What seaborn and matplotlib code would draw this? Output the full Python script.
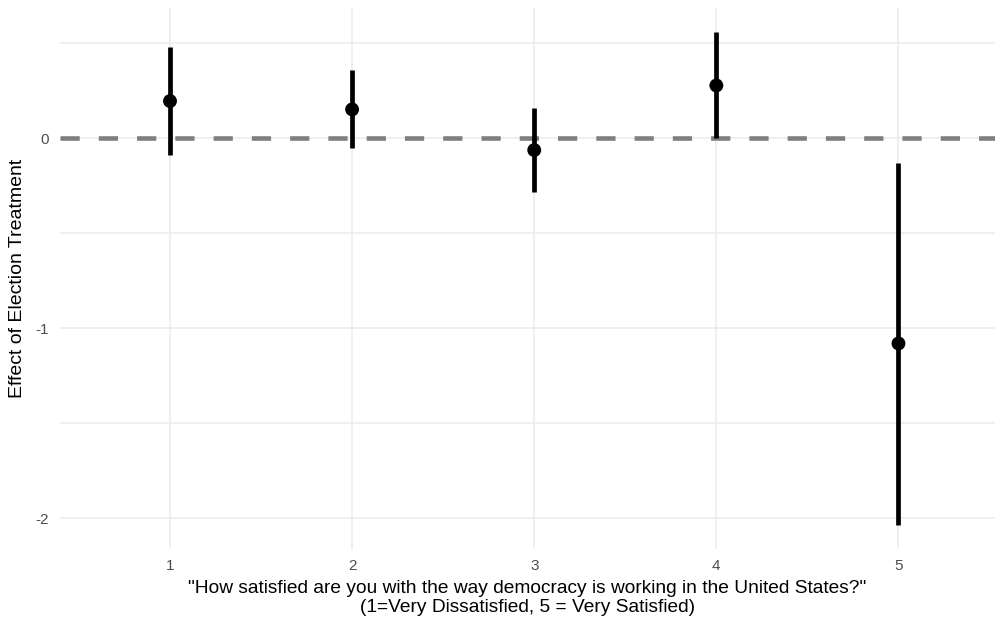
import matplotlib
matplotlib.use("Agg")
import matplotlib.pyplot as plt
import seaborn as sns
import pandas as pd

# Treatment effects by satisfaction level, with 95% interval bounds
levels = [1, 2, 3, 4, 5]
estimates = [0.195, 0.151, -0.063, 0.277, -1.081]
lower = [-0.089, -0.054, -0.286, 0.002, -2.037]
upper = [0.479, 0.356, 0.156, 0.556, -0.133]
tick_labels = ["1", "2", "3", "4", "5"]

df = pd.DataFrame({"level": levels, "estimate": estimates,
                   "lower": lower, "upper": upper})

sns.set_theme(style="white")
plt.rcParams["font.family"] = ["Liberation Sans", "DejaVu Sans"]

fig = plt.figure(figsize=(10, 6.27), dpi=100)
ax = fig.add_axes([0.06, 0.1244, 0.935, 0.8626])

grid_color = "#EBEBEB"
for yv in [0.5, 0.0, -0.5, -1.0, -1.5, -2.0]:
    ax.axhline(yv, color=grid_color, lw=1.1, zorder=0)
for xv in levels:
    ax.axvline(xv, color=grid_color, lw=1.1, zorder=0)

# Reference line at zero effect
ax.axhline(0, color="#7F7F7F", lw=3.3, ls=(0, (4.2, 4.15)), zorder=1)

# Interval bars and point estimates
ax.vlines(df["level"], df["lower"], df["upper"], color="black", lw=3.4, zorder=2)
sns.scatterplot(data=df, x="level", y="estimate", ax=ax, color="black",
                s=100, edgecolor="none", zorder=3, legend=False)

ax.set_xlim(0.396, 5.53)
ax.set_ylim(-2.163, 0.684)
ax.set_xticks(levels)
ax.set_xticklabels(tick_labels)
ax.set_yticks([-2, -1, 0])
ax.set_yticklabels(["-2", "-1", "0"])
ax.tick_params(axis="both", length=0, labelsize=11, labelcolor="#4D4D4D")
ax.tick_params(axis="x", pad=7)
ax.tick_params(axis="y", pad=8)
for s in ax.spines.values():
    s.set_visible(False)

ax.set_xlabel('"How satisfied are you with the way democracy is working in the United States?"\n'
              '(1=Very Dissatisfied, 5 = Very Satisfied)',
              fontsize=13.8, color="black", linespacing=1.2, labelpad=5)
ax.set_ylabel("Effect of Election Treatment", fontsize=14, color="black", labelpad=7)

fig.savefig("out.png", dpi=100, facecolor="white")
